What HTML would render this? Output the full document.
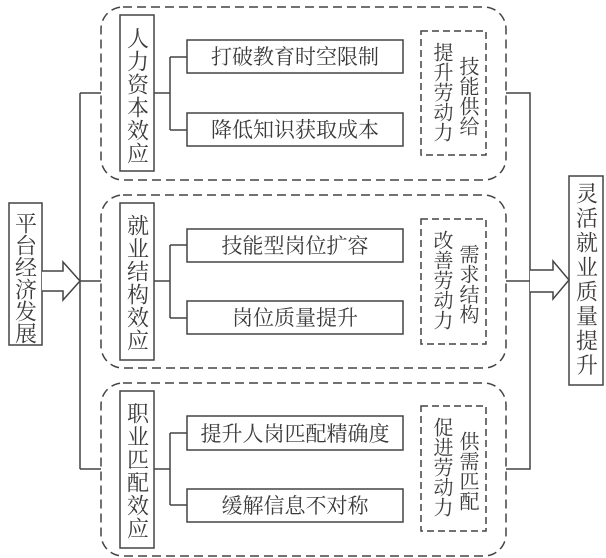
<!DOCTYPE html>
<html><head><meta charset="utf-8"><style>
html,body{margin:0;padding:0;background:#fff;}
svg{display:block}
text{font-family:"Liberation Serif","Noto Serif CJK SC",serif;fill:#3a3a3a;}
.v{writing-mode:vertical-rl;}
</style></head><body>
<svg width="606" height="558" viewBox="0 0 606 558" xmlns="http://www.w3.org/2000/svg">
<g fill="none" stroke="#444" stroke-width="1.5">
<rect x="101" y="7" width="405" height="173" rx="22" stroke-dasharray="9,5"/>
<rect x="101" y="195" width="405" height="173" rx="22" stroke-dasharray="9,5"/>
<rect x="101" y="383" width="405" height="173" rx="22" stroke-dasharray="9,5"/>
<rect x="421" y="31" width="65" height="124" stroke-dasharray="7,4"/>
<rect x="421" y="219" width="65" height="125" stroke-dasharray="7,4"/>
<rect x="421" y="406" width="65" height="125" stroke-dasharray="7,4"/>
<rect x="9" y="203" width="33" height="142"/>
<rect x="569" y="176" width="34" height="209"/>
<rect x="120" y="15" width="34" height="156"/>
<rect x="120" y="203" width="34" height="157"/>
<rect x="120" y="391" width="34" height="157"/>
<rect x="187" y="40" width="216" height="33"/>
<rect x="187" y="113" width="216" height="33"/>
<rect x="187" y="229" width="216" height="33"/>
<rect x="187" y="301" width="216" height="33"/>
<rect x="187" y="416" width="216" height="34"/>
<rect x="187" y="489" width="216" height="33"/>
<path d="M154 93H170M170 57V130M170 57H187M170 130H187"/>
<path d="M154 281H170M170 245V318M170 245H187M170 318H187"/>
<path d="M154 469H170M170 433V505M170 433H187M170 505H187"/>
<path d="M80 93V469M80 93H101M80 281H101M80 469H101"/>
<path d="M506 93H530V469H506M506 281H530"/>
<path d="M42 271H63V262L80 281L63 300V291H42" fill="#fff"/>
<path d="M530 270H553V261L569 280L553 299V292H530" fill="#fff"/>
</g>
<g font-size="21" text-anchor="middle">
<text x="295" y="64">打破教育时空限制</text>
<text x="295" y="137">降低知识获取成本</text>
<text x="295" y="253">技能型岗位扩容</text>
<text x="295" y="325">岗位质量提升</text>
<text x="295" y="441">提升人岗匹配精确度</text>
<text x="295" y="513">缓解信息不对称</text>
</g>
<g font-size="22">
<text class="v" x="137" y="27" letter-spacing="1">人力资本效应</text>
<text class="v" x="137" y="214" letter-spacing="1">就业结构效应</text>
<text class="v" x="137" y="402" letter-spacing="1">职业匹配效应</text>
<text class="v" x="25" y="212">平台经济发展</text>
<text class="v" x="586" y="182" letter-spacing="2.5">灵活就业质量提升</text>
</g>
<g font-size="20">
<text class="v" x="441" y="42">提升劳动力</text>
<text class="v" x="467" y="56">技能供给</text>
<text class="v" x="441" y="230">改善劳动力</text>
<text class="v" x="467" y="244">需求结构</text>
<text class="v" x="441" y="417">促进劳动力</text>
<text class="v" x="467" y="431">供需匹配</text>
</g>
</svg>
</body></html>
